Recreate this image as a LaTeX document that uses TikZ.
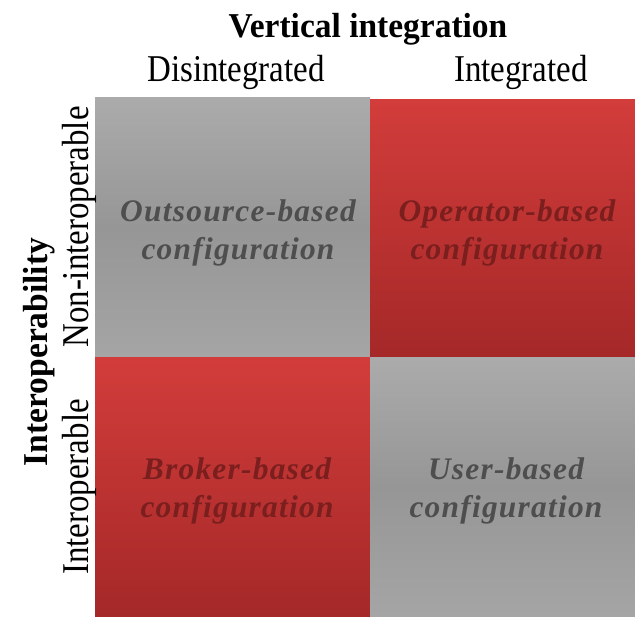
\documentclass[tikz,border=0pt]{standalone}
\usepackage{fontspec}
\setmainfont{Liberation Serif}
\newfontfamily\cellfont[LetterSpace=4]{Liberation Serif}
\definecolor{gtop}{HTML}{ABABAB}
\definecolor{gmid}{HTML}{969696}
\definecolor{gbot}{HTML}{A5A5A5}
\definecolor{rtop}{HTML}{D23D3B}
\definecolor{rbot}{HTML}{A52828}
\definecolor{gtext}{HTML}{4E4E4E}
\definecolor{rtext}{HTML}{7A1E1E}
\newcommand{\narrow}[1]{\scalebox{0.87}[1]{#1}}
\newcommand{\narrowb}[1]{\scalebox{0.96}[1]{#1}}
\tikzset{
  cell/.style={anchor=north west, inner sep=0pt},
  graycell/.style={cell, top color=gtop, bottom color=gbot, middle color=gmid},
  redcell/.style={cell, top color=rtop, bottom color=rbot},
  celltext/.style={align=center, font=\cellfont\fontsize{31.5}{39}\selectfont\bfseries\itshape},
  head/.style={font=\fontsize{38}{42}\selectfont, inner sep=0pt},
  bighead/.style={font=\fontsize{35}{40}\selectfont\bfseries, inner sep=0pt}
}
\begin{document}
\begin{tikzpicture}[x=1bp,y=-1bp]
\useasboundingbox (0,0) rectangle (635,619);
\node[graycell, minimum width=275bp, minimum height=260bp] (tl) at (95,97) {};
\node[redcell, minimum width=265bp, minimum height=258bp] (tr) at (370,99) {};
\node[redcell, minimum width=275bp, minimum height=259bp] (bl) at (95,357) {};
\node[graycell, minimum width=265bp, minimum height=259bp] (br) at (370,357) {};
\node[celltext, text=gtext] (tlt) at (238,233) {Outsource-based\\configuration};
\node[celltext, text=rtext] (trt) at (507,233) {Operator-based\\configuration};
\node[celltext, text=rtext] (blt) at (237,491) {Broker-based\\configuration};
\node[celltext, text=gtext] (brt) at (506,491) {User-based\\configuration};
\node[bighead, anchor=base] (vi) at (368,38) {\narrowb{Vertical integration}};
\node[head, anchor=base] (dis) at (236,82) {\narrow{Disintegrated}};
\node[head, anchor=base] (int) at (521,82) {\narrow{Integrated}};
\node[bighead, rotate=90, anchor=base] (iop) at (47,352) {\narrowb{Interoperability}};
\node[head, rotate=90, anchor=base] (non) at (88,227) {\narrow{Non-interoperable}};
\node[head, rotate=90, anchor=base] (yes) at (88,487) {\narrow{Interoperable}};
\end{tikzpicture}
\end{document}
